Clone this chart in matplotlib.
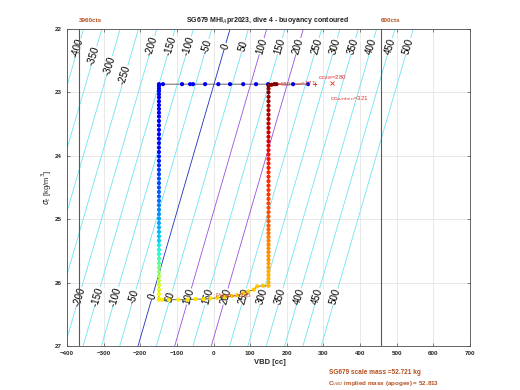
import numpy as np
import matplotlib.pyplot as plt

plt.rcParams['font.family'] = ['Liberation Sans', 'DejaVu Sans']

# buoyancy model (contours in cc away from neutral)
scale_mass = 52721.0  # g
vol0 = 51541.0  # cc
levels = [-400, -350, -300, -250, -200, -150, -100, -50, 0, 50, 100, 150,
          200, 250, 300, 350, 400, 450, 500]
top_label_sigma = {-400: 22.30, -350: 22.43, -300: 22.58, -250: 22.73}
top_sigma = 22.27
bot_sigma = 26.22
vbd_min_cc = -368
vbd_max_cc = 456

# surface bleed (start of dive)
surf_vbd = [258, 217, 149, 116, 81, 45, 13, -23, -56, -64, -86, -138, -149]
surf_sig = [22.87, 22.87, 22.87, 22.87, 22.87, 22.87, 22.87, 22.87, 22.87,
            22.87, 22.87, 22.87, 22.87]
surf_c = [0.08, 0.08, 0.09, 0.09, 0.09, 0.09, 0.10, 0.10, 0.10, 0.10, 0.10,
          0.10, 0.10]

# descent
dive_vbd = -149
dive_sig = [22.90, 22.94, 22.98, 23.03, 23.08, 23.14, 23.20, 23.26, 23.32,
            23.38, 23.45, 23.52, 23.59, 23.66, 23.73, 23.80, 23.87, 23.94,
            24.01, 24.08, 24.15, 24.22, 24.29, 24.36, 24.43, 24.50, 24.57,
            24.64, 24.71, 24.78, 24.85, 24.92, 24.99, 25.06, 25.13, 25.20,
            25.27, 25.34, 25.41, 25.48, 25.55, 25.62, 25.69, 25.76, 25.83,
            25.90, 25.97, 26.04, 26.11, 26.18, 26.25, 26.27]
dive_c = [0.10, 0.10, 0.11, 0.11, 0.11, 0.11, 0.11, 0.12, 0.12,
          0.12, 0.12, 0.12, 0.13, 0.13, 0.13, 0.14, 0.14, 0.14,
          0.15, 0.15, 0.17, 0.18, 0.19, 0.20, 0.20, 0.21, 0.22,
          0.22, 0.24, 0.25, 0.26, 0.27, 0.28, 0.29, 0.30, 0.31,
          0.32, 0.33, 0.36, 0.38, 0.40, 0.43, 0.46, 0.49, 0.52,
          0.55, 0.58, 0.61, 0.63, 0.64, 0.65, 0.66]

# apogee pump
apo_vbd = [-140, -122, -96, -71, -49, -27, -8, 10, 30, 50, 64, 80, 95, 110,
           119, 135, 150]
apo_sig = [26.27, 26.27, 26.27, 26.27, 26.26, 26.26, 26.25, 26.24, 26.23,
           26.21, 26.20, 26.17, 26.14, 26.11, 26.06, 26.05, 26.05]
apo_c = [0.66, 0.66, 0.66, 0.67, 0.67, 0.67, 0.67, 0.68, 0.68, 0.68, 0.69,
         0.69, 0.69, 0.70, 0.70, 0.70, 0.71]

# climb
climb_vbd = 150
climb_sig = [26.00, 25.94, 25.88, 25.82, 25.76, 25.70, 25.64, 25.58, 25.52,
             25.46, 25.40, 25.34, 25.28, 25.22, 25.16, 25.10, 25.03, 24.96,
             24.89, 24.82, 24.75, 24.68, 24.61, 24.54, 24.47, 24.40, 24.33,
             24.26, 24.19, 24.12, 24.05, 23.98, 23.91, 23.84, 23.77, 23.70,
             23.63, 23.56, 23.49, 23.42, 23.35, 23.28, 23.21, 23.14, 23.07,
             23.00, 22.94, 22.89]
climb_c = [0.72, 0.72, 0.73, 0.73, 0.74, 0.74, 0.75, 0.75, 0.76,
           0.76, 0.77, 0.77, 0.78, 0.79, 0.80, 0.81, 0.82, 0.82,
           0.83, 0.83, 0.84, 0.84, 0.85, 0.85, 0.86, 0.86, 0.87,
           0.87, 0.88, 0.88, 0.89, 0.89, 0.90, 0.91, 0.92, 0.93,
           0.93, 0.94, 0.94, 0.95, 0.95, 0.96, 0.96, 0.97, 0.97,
           0.98, 0.98, 0.99]
end_vbd = [158, 166, 172]
end_sig = [22.88, 22.87, 22.87]
end_c = [0.99, 1.0, 1.0]

vbd = np.array(surf_vbd + [dive_vbd] * len(dive_sig) + apo_vbd
               + [climb_vbd] * len(climb_sig) + end_vbd, dtype=float)
sig = np.array(surf_sig + dive_sig + apo_sig + climb_sig + end_sig)
col = np.array(surf_c + dive_c + apo_c + climb_c + end_c)

fig = plt.figure(figsize=(5.2, 3.9), dpi=100)
ax = fig.add_axes([67/520, 44/390, 403/520, 317/390])

# buoyancy contours
V, S = np.meshgrid(np.linspace(-400, 700, 111), np.linspace(22, 27, 51))
L = V + vol0 - scale_mass*1000/(1000 + S)
lev_colors = []
for lv in levels:
    if lv == 0:
        lev_colors.append('#1f2fc0')
    elif lv in (100, 200):
        lev_colors.append('#9a4fe0')
    else:
        lev_colors.append('#6fe4f4')
ax.contour(V, S, L, levels=levels, colors=lev_colors, linewidths=0.6)

def vbd_at(lv, s):
    return lv - vol0 + scale_mass*1000/(1000 + s)

# contour labels, reading upward along the lines
for lv in levels:
    rows = [top_label_sigma.get(lv, top_sigma)]
    if lv >= -200:
        rows.append(bot_sigma)
    for s in rows:
        ax.text(vbd_at(lv, s), s, '%d' % lv, rotation=73, rotation_mode='anchor',
                ha='center', va='center', fontsize=7, color='k', zorder=2,
                bbox=dict(facecolor='white', edgecolor='none', pad=0.3))

ax.axvline(vbd_min_cc, color='0.35', lw=0.8)
ax.axvline(vbd_max_cc, color='0.35', lw=0.8)

# trajectory
ax.plot(vbd, sig, color='0.3', lw=0.6, zorder=3)
ax.scatter(vbd, sig, c=col, cmap='jet', vmin=0, vmax=1, s=9,
           edgecolors='none', zorder=4)

# annotations
red = '#e8302a'
ax.text(172, 22.87, '=480', color=red, fontsize=4.5, va='center', zorder=5)
ax.text(220, 22.86, '$_{sm}$=171', color=red, fontsize=4.5, va='center', zorder=5)
ax.plot(277, 22.87, '+', color=red, ms=3.5, mew=0.6, zorder=5)
ax.text(286, 22.77, 'cc$_{SM}$=280', color=red, fontsize=4.5, va='center')
ax.plot(324, 22.85, 'x', color=red, ms=3, mew=0.6)
ax.text(318, 23.09, 'cc$_{surfmin}$=321', color=red, fontsize=4.5, va='center')
ax.text(4, 26.21, 'Pump$_{cc}$=245', color='#d04a20', fontsize=4.5,
        va='center', zorder=5)

ax.set_xlim(-400, 700)
ax.set_ylim(27, 22)
ax.set_xticks(range(-400, 701, 100))
ax.set_yticks([22, 23, 24, 25, 26, 27])
ax.grid(True, color='0.88', lw=0.5)
ax.set_axisbelow(True)
ax.tick_params(direction='in', top=True, right=True, length=2.5, width=0.5,
               labelsize=4.5, colors='0.3', labelcolor='#262626')
for lab in ax.get_xticklabels() + ax.get_yticklabels():
    lab.set_fontweight('bold')
for sp in ax.spines.values():
    sp.set_color('0.3')
    sp.set_linewidth(0.6)

fig.text(268/520, 1 - 20/390, 'SG679 MHI$_A$pr2023, dive 4 - buoyancy contoured',
         ha='center', va='center', fontsize=5, fontweight='bold', color='#222222')
fig.text(79/520, 1 - 20/390, '3960cts', ha='left', va='center', fontsize=4.5,
         fontweight='bold', color='#b5501e')
fig.text(381/520, 1 - 20/390, '600cts', ha='left', va='center', fontsize=4.5,
         fontweight='bold', color='#b5501e')
fig.text(270/520, 1 - 362/390, 'VBD [cc]', ha='center', va='center', fontsize=5.5,
         fontweight='bold', color='#262626')
fig.text(47/520, 1 - 187/390, r'$\sigma_t$ [kg/m$^3$]', ha='center', va='center',
         rotation=90, fontsize=5.5, color='#262626')
fig.text(329/520, 1 - 373/390, 'SG679 scale mass =52.721 kg', ha='left',
         va='center', fontsize=4.7, fontweight='bold', color='#b5501e')
fig.text(328/520, 1 - 384/390, r'C$_{VBD}$ implied mass (apogee) = 52.813',
         ha='left', va='center', fontsize=4.5, fontweight='bold', color='#b5501e')

fig.savefig('out.png', dpi=100)
